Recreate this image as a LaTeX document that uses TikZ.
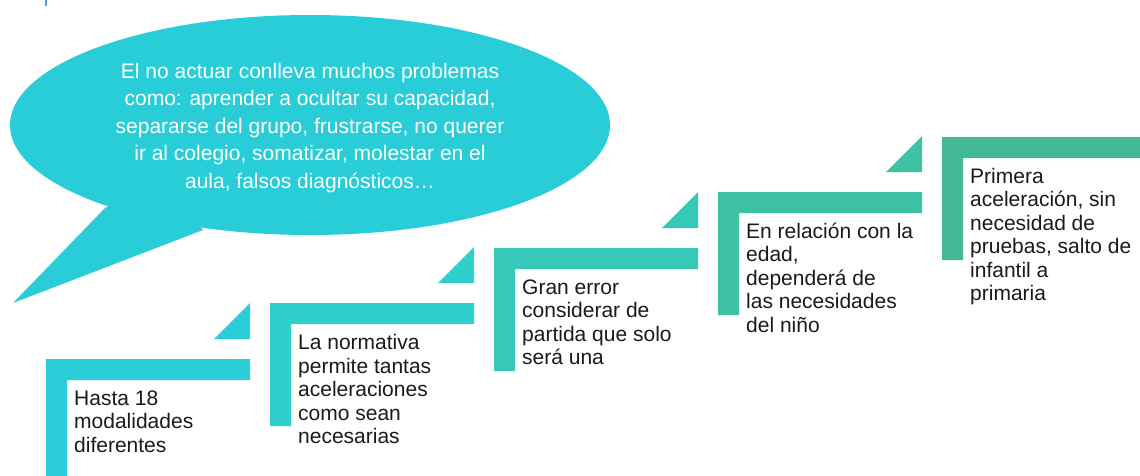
\documentclass[tikz,border=0pt]{standalone}
\usepackage{fontspec}
\setmainfont{Liberation Sans}
\definecolor{bubblec}{HTML}{29CDD8}
\definecolor{sone}{HTML}{2ACDD8}
\definecolor{stwo}{HTML}{2FD0CB}
\definecolor{sthree}{HTML}{37C9B8}
\definecolor{sfour}{HTML}{3DC2A3}
\definecolor{sfive}{HTML}{43B995}
\definecolor{txt}{HTML}{1A1A1A}
\definecolor{tick}{HTML}{3DA9E0}
\begin{document}
\begin{tikzpicture}[x=1pt,y=-1pt,
  steptext/.style={anchor=base west,inner sep=0pt,align=left,text=txt,font=\fontsize{21}{23.5}\selectfont},
  bubbletext/.style={anchor=base,inner sep=0pt,align=center,text=white,font=\fontsize{21}{27.5}\selectfont}]
\useasboundingbox (0,0) rectangle (1140,475);
\clip (0,0) rectangle (1140,475);
% small tick at top
\draw[tick,line width=2pt] (46,0) -- (46,6);
% speech bubble
\fill[bubblec] (310,125) ellipse [x radius=300, y radius=110];
\fill[bubblec] (105,208) -- (13,303) -- (203,230) -- (160,180) -- cycle;
% anchors below are at the baseline of the last line
\node[bubbletext] (bubble) at (310,188) {El no actuar conlleva muchos problemas\\como: aprender a ocultar su capacidad,\\separarse del grupo, frustrarse, no querer\\ir al colegio, somatizar, molestar en el\\aula, falsos diagnósticos…};
% steps (L-shaped bars)
\foreach \x/\y/\c in {46/359/sone, 270/303/stwo, 494/248/sthree, 718/192/sfour, 942/137/sfive}{
  \fill[\c] (\x,\y) -- ++(204,0) -- ++(0,21) -- ++(-183,0) -- ++(0,102) -- ++(-21,0) -- cycle;
}
% small triangles above the bar ends
\foreach \x/\y/\c in {46/359/sone, 270/303/stwo, 494/248/sthree, 718/192/sfour}{
  \fill[\c] (\x+204,\y-56) -- ++(0,36) -- ++(-36,0) -- cycle;
}
\node[steptext] (s1) at (74,452) {Hasta 18\\modalidades\\diferentes};
\node[steptext] (s2) at (298,443.5) {La normativa\\permite tantas\\aceleraciones\\como sean\\necesarias};
\node[steptext] (s3) at (522,364.5) {Gran error\\considerar de\\partida que solo\\será una};
\node[steptext] (s4) at (746,332) {En relación con la\\edad,\\dependerá de\\las necesidades\\del niño};
\node[steptext] (s5) at (970,300.5) {Primera\\aceleración, sin\\necesidad de\\pruebas, salto de\\infantil a\\primaria};
\end{tikzpicture}
\end{document}
